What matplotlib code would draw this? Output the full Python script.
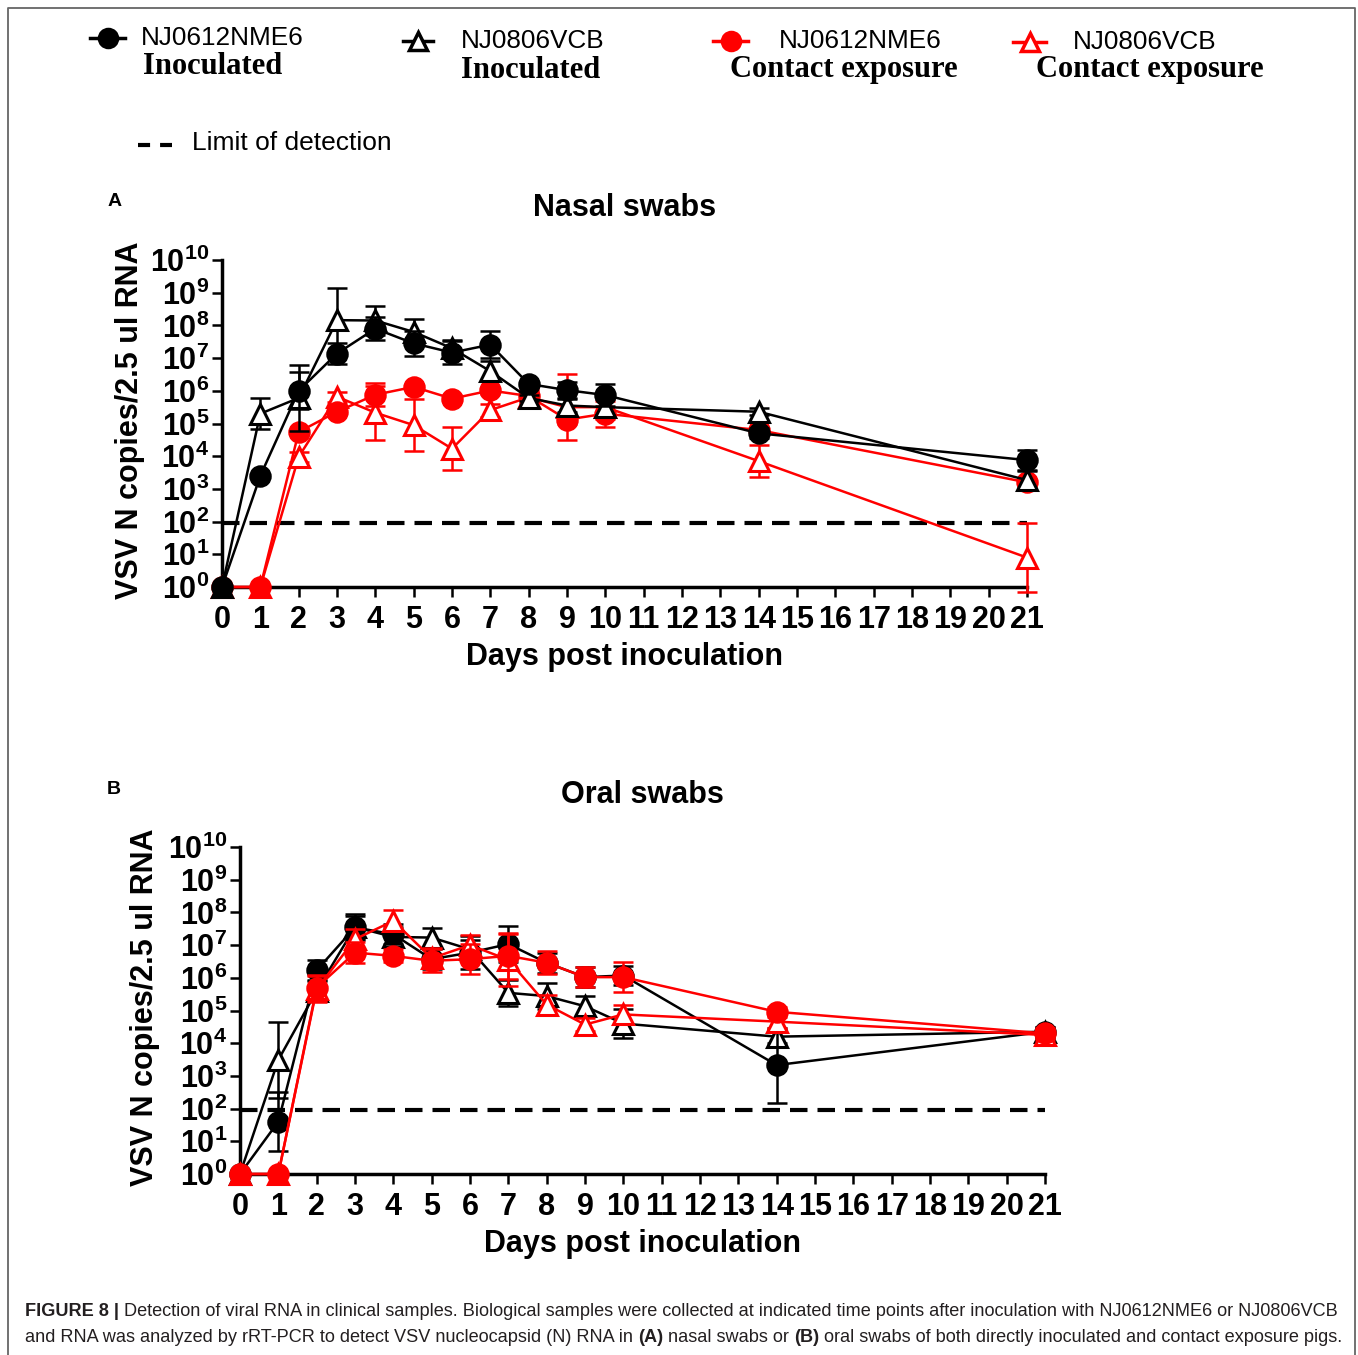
import numpy as np
import matplotlib
matplotlib.use("Agg")
import matplotlib.pyplot as plt
from matplotlib.ticker import FixedLocator, FuncFormatter, NullLocator

plt.rcParams["font.family"] = ["Liberation Sans", "DejaVu Sans"]
plt.rcParams["mathtext.fontset"] = "custom"
plt.rcParams["mathtext.rm"] = "Liberation Sans"
plt.rcParams["mathtext.bf"] = "Liberation Sans:bold"
plt.rcParams["mathtext.default"] = "bf"

RED = "#ff0000"

# sampling days (dpi)
days = [0, 1, 2, 3, 4, 5, 6, 7, 8, 9, 10, 14, 21]

# nasal swabs: log10 N copies / 2.5 ul RNA, with +/- error in log10 units
nasal_nme6_inoc = [0, 3.4, 6.0, 7.14, 7.9, 7.45, 7.17, 7.41, 6.21, 6.02, 5.87, 4.70, 3.88]
nasal_nme6_inoc_err = [0, 0, 0.56, 0.32, 0.35, 0.38, 0.35, 0.42, 0.1, 0.25, 0.34, 0.15, 0.3]
nasal_vcb_inoc = [0, 5.3, 5.78, 8.16, 8.15, 7.8, 7.3, 6.6, 5.78, 5.55, 5.5, 5.36, 3.27]
nasal_vcb_inoc_err = [0, 0.47, 1.0, 0.97, 0.45, 0.4, 0.25, 0.3, 0.1, 0.2, 0.25, 0.1, 0.27]
nasal_nme6_cont = [0, 0, 4.74, 5.36, 5.88, 6.12, 5.76, 6.01, 5.84, 5.12, 5.3, 4.8, 3.2]
nasal_nme6_cont_err = [0, 0, 0.1, 0.1, 0.35, 0.1, 0.1, 0.1, 0.2, 0.15, 0.4, 0.1, 0.1]
nasal_vcb_cont = [0, 0, 3.98, 5.82, 5.33, 4.95, 4.23, 5.41, 5.8, 5.5, 5.5, 3.85, 0.9]
nasal_vcb_cont_err = [0, 0, 0.15, 0.15, 0.82, 0.8, 0.66, 0.2, 0.2, 1.0, 0.35, 0.48, 1.06]

# oral swabs
oral_nme6_inoc = [0, 1.6, 6.23, 7.54, 7.33, 6.57, 6.77, 7.03, 6.46, 6.02, 6.07, 3.33, 4.35]
oral_nme6_inoc_err = [0, 0.9, 0.3, 0.35, 0.3, 0.3, 0.5, 0.55, 0.3, 0.3, 0.3, 1.15, 0.15]
oral_vcb_inoc = [0, 3.49, 5.6, 7.55, 7.25, 7.23, 6.87, 5.54, 5.44, 5.13, 4.6, 4.2, 4.35]
oral_vcb_inoc_err = [0, 1.17, 0.3, 0.4, 0.3, 0.3, 0.3, 0.4, 0.4, 0.3, 0.45, 0.2, 0.15]
oral_nme6_cont = [0, 0, 5.7, 6.77, 6.67, 6.52, 6.57, 6.67, 6.46, 6.02, 6.02, 4.96, 4.3]
oral_nme6_cont_err = [0, 0, 0.4, 0.33, 0.2, 0.35, 0.45, 0.7, 0.35, 0.3, 0.45, 0.15, 0.15]
oral_vcb_cont = [0, 0, 5.65, 7.18, 7.74, 6.6, 7.0, 6.55, 5.18, 4.57, 4.88, 4.66, 4.25]
oral_vcb_cont_err = [0, 0, 0.4, 0.3, 0.32, 0.3, 0.3, 0.8, 0.3, 0.2, 0.3, 0.2, 0.15]

limit_of_detection = 89

STYLES = {
    "nme6_inoc": dict(color="black", marker="o", mfc="black"),
    "vcb_inoc": dict(color="black", marker="^", mfc="white"),
    "nme6_cont": dict(color=RED, marker="o", mfc=RED),
    "vcb_cont": dict(color=RED, marker="^", mfc="white"),
}

W, H = 1358, 1355
fig = plt.figure(figsize=(W / 100, H / 100), dpi=100)
fig.patch.set_facecolor("white")


def draw_panel(ax, series, order, title):
    x = np.array(days, dtype=float)
    for z, key in enumerate(order):
        logv, loge = series[key]
        logv = np.array(logv, dtype=float)
        loge = np.array(loge, dtype=float)
        st = STYLES[key]
        v = 10 ** logv
        m = loge > 0
        lo = v[m] - 10 ** (logv[m] - loge[m])
        hi = 10 ** (logv[m] + loge[m]) - v[m]
        ax.errorbar(x[m], v[m], yerr=[lo, hi], fmt="none", ecolor=st["color"],
                    elinewidth=1.8, capsize=7, capthick=1.8, clip_on=False,
                    zorder=3 + 2 * z)
        ax.plot(x, v, color=st["color"], lw=1.8, marker=st["marker"],
                ms=14 if st["marker"] == "o" else 15, mfc=st["mfc"],
                mec=st["color"], mew=2.2, clip_on=False, zorder=4 + 2 * z)

    ax.hlines(limit_of_detection, 0, 21, colors="black", lw=3,
              linestyles=(0, (4.2, 2.4)), zorder=2, clip_on=False)

    ax.set_yscale("log")
    ax.set_ylim(1, 1e10)
    ax.set_xlim(0, 21)
    ax.yaxis.set_major_locator(FixedLocator([10.0 ** k for k in range(11)]))
    ax.yaxis.set_minor_locator(NullLocator())
    ax.yaxis.set_major_formatter(FuncFormatter(lambda val, pos: r"$10^{%d}$" % round(np.log10(val))))
    ax.set_xticks(range(22))
    ax.set_xticklabels([str(d) for d in range(22)], fontweight="bold")

    for s in ["top", "right"]:
        ax.spines[s].set_visible(False)
    for s in ["left", "bottom"]:
        ax.spines[s].set_linewidth(2.5)
    ax.tick_params(axis="both", direction="out", length=7, width=1.8, labelsize=22)
    ax.tick_params(axis="x", pad=6)
    ax.tick_params(axis="y", pad=2)

    ax.set_xlabel("Days post inoculation", fontsize=22, fontweight="bold")
    ax.xaxis.label.set_va("center")
    ax.xaxis.set_label_coords(0.5, -0.214)
    ax.set_ylabel("VSV N copies/2.5 ul RNA", fontsize=22, fontweight="bold")
    ax.yaxis.label.set_va("center")
    ax.text(0.5, 1.16, title, transform=ax.transAxes, ha="center", va="center",
            fontsize=22, fontweight="bold")


# panel A: nasal swabs
ax_n = fig.add_axes([222 / W, 1 - 587 / H, 805 / W, 327 / H])
draw_panel(ax_n, {
    "nme6_inoc": (nasal_nme6_inoc, nasal_nme6_inoc_err),
    "vcb_inoc": (nasal_vcb_inoc, nasal_vcb_inoc_err),
    "nme6_cont": (nasal_nme6_cont, nasal_nme6_cont_err),
    "vcb_cont": (nasal_vcb_cont, nasal_vcb_cont_err),
}, ["vcb_cont", "nme6_cont", "vcb_inoc", "nme6_inoc"], "Nasal swabs")
ax_n.yaxis.set_label_coords(-0.114, 0.51)

# panel B: oral swabs
ax_o = fig.add_axes([240 / W, 1 - 1174 / H, 805 / W, 327 / H])
draw_panel(ax_o, {
    "nme6_inoc": (oral_nme6_inoc, oral_nme6_inoc_err),
    "vcb_inoc": (oral_vcb_inoc, oral_vcb_inoc_err),
    "nme6_cont": (oral_nme6_cont, oral_nme6_cont_err),
    "vcb_cont": (oral_vcb_cont, oral_vcb_cont_err),
}, ["vcb_inoc", "nme6_inoc", "vcb_cont", "nme6_cont"], "Oral swabs")
ax_o.yaxis.set_label_coords(-0.1175, 0.51)

# overlay in pixel units for legend, frame and caption
lax = fig.add_axes([0, 0, 1, 1])
lax.set_xlim(0, W)
lax.set_ylim(H, 0)
lax.axis("off")
lax.set_zorder(-1)

lax.plot([8, 8, 1355, 1355], [1400, 8, 8, 1400], color="#666666", lw=1.3, clip_on=False)

lax.text(115, 202, "A", fontsize=14, fontweight="bold", ha="center", va="center")
lax.text(114, 790, "B", fontsize=14, fontweight="bold", ha="center", va="center")

legend_items = [
    ("nme6_inoc", 90, 125, 38, "NJ0612NME6", 141, "Inoculated", 143, 66),
    ("vcb_inoc", 403, 433, 41, "NJ0806VCB", 461, "Inoculated", 461, 71),
    ("nme6_cont", 713, 748, 41, "NJ0612NME6", 779, "Contact exposure", 730, 70),
    ("vcb_cont", 1013, 1046, 42, "NJ0806VCB", 1073, "Contact exposure", 1036, 70),
]
for key, x0, x1, y, name, tx, group, gx, gy in legend_items:
    st = STYLES[key]
    lax.plot([x0, x1], [y, y], color=st["color"], lw=2.5)
    lax.plot([(x0 + x1) / 2], [y], marker=st["marker"], color=st["color"],
             mfc=st["mfc"], mec=st["color"], mew=2.5, ms=13)
    lax.text(tx, y, name, fontsize=18.8, ha="left", va="center")
    lax.text(gx, gy, group, fontsize=22, ha="left", va="center",
             family="Liberation Serif", fontweight="bold")

lax.plot([138, 172], [145, 145], color="black", lw=3, ls=(0, (2.9, 2.4)))
lax.text(192, 143, "Limit of detection", fontsize=19, ha="left", va="center")

# caption with bold runs
renderer = fig.canvas.get_renderer()


def caption_line(y, runs, x=25, size=13.05):
    for txt, bold in runs:
        t = lax.text(x, y, txt, fontsize=size, color="#231f20", ha="left", va="center",
                     fontweight="bold" if bold else "normal")
        bb = t.get_window_extent(renderer)
        x += bb.width


caption_line(1311, [
    ("FIGURE 8 |", True),
    (" Detection of viral RNA in clinical samples. Biological samples were collected at "
     "indicated time points after inoculation with NJ0612NME6 or NJ0806VCB", False),
])
caption_line(1337, [
    ("and RNA was analyzed by rRT-PCR to detect VSV nucleocapsid (N) RNA in ", False),
    ("(A)", True),
    (" nasal swabs or ", False),
    ("(B)", True),
    (" oral swabs of both directly inoculated and contact exposure pigs.", False),
])

fig.savefig("out.png", dpi=100, facecolor="white")
